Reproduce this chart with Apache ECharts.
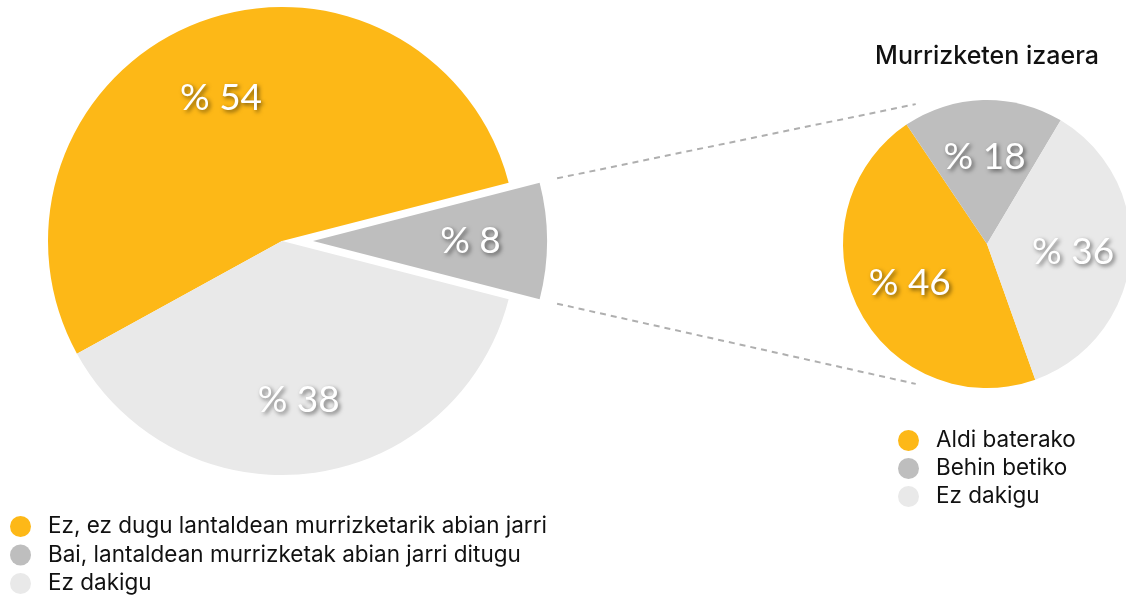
<!DOCTYPE html>
<html><head><meta charset="utf-8">
<script src="https://cdn.jsdelivr.net/npm/echarts@6/dist/echarts.min.js"></script>
<style>html,body{margin:0;padding:0;background:#fff}#c{width:1126px;height:596px}</style>
</head><body><div id="c"></div>
<script>
const mainCategories = ['Ez, ez dugu lantaldean murrizketarik abian jarri', 'Bai, lantaldean murrizketak abian jarri ditugu', 'Ez dakigu'];
const mainValues = [54, 8, 38];
const detailCategories = ['Aldi baterako', 'Behin betiko', 'Ez dakigu'];
const detailValues = [46, 18, 36];
const detailTitle = 'Murrizketen izaera';
const colors = ['#FDB817', '#BEBEBE', '#E9E9E9'];

const MAIN_C = [282, 241], MAIN_R = 234, OFFSET = 31;
const DET_C = [987, 244], DET_R = 144;
const MAIN_START = 208.8, DET_START = 289.6;

const labelStyle = {
  show: true, position: 'inside', color: '#fff',
  fontFamily: 'Lato, "Open Sans", sans-serif', fontSize: 37,
  formatter: p => '% ' + p.value,
  textShadowColor: 'rgba(0,0,0,0.55)', textShadowBlur: 4, textShadowOffsetX: 2, textShadowOffsetY: 2
};

function mkData(cats, vals, selIdx, transparent) {
  return cats.map((n, i) => ({
    name: n, value: vals[i], selected: i === selIdx,
    itemStyle: { color: transparent ? 'rgba(0,0,0,0)' : colors[i] }
  }));
}

const rad = d => d * Math.PI / 180;
const half = mainValues[1] / 100 * 180;
const tipX = MAIN_C[0] + OFFSET, tipY = MAIN_C[1];
const sR = MAIN_R + 18;
const p1 = [tipX + sR * Math.cos(rad(half)), tipY - sR * Math.sin(rad(half))];
const p2 = [tipX + sR * Math.cos(rad(half)), tipY + sR * Math.sin(rad(half))];
const eR = DET_R + 13;
const q1 = [DET_C[0] + eR * Math.cos(rad(117)), DET_C[1] - eR * Math.sin(rad(117))];
const q2 = [DET_C[0] + eR * Math.cos(rad(117)), DET_C[1] + eR * Math.sin(rad(117))];
const dashStyle = { stroke: '#AFAFAF', lineWidth: 2, lineDash: [6, 5] };

const legendText = { fontFamily: 'Inter, "Liberation Sans", Arial, sans-serif', fontSize: 22.5, lineHeight: 21, color: '#111', padding: [0, 0, 0, 12] };

const chart = echarts.init(document.getElementById('c'));
chart.setOption({
  animation: false,
  title: {
    text: detailTitle, left: DET_C[0], top: 44, textAlign: 'center', padding: 0,
    textStyle: { fontFamily: 'Inter, "Liberation Sans", Arial, sans-serif', fontWeight: 500, fontSize: 25, color: '#111' }
  },
  legend: [
    {
      data: mainCategories, orient: 'vertical', left: 10, top: 515, height: 100, padding: 0,
      icon: 'circle', itemWidth: 21, itemHeight: 21, itemGap: 5.5, selectedMode: false,
      textStyle: legendText
    },
    {
      data: detailCategories, orient: 'vertical', left: 898, top: 429, padding: 0,
      icon: 'circle', itemWidth: 21, itemHeight: 21, itemGap: 5, selectedMode: false,
      textStyle: legendText
    }
  ],
  graphic: [
    { type: 'line', shape: { x1: p1[0], y1: p1[1], x2: q1[0], y2: q1[1] }, style: dashStyle, silent: true },
    { type: 'line', shape: { x1: p2[0], y1: p2[1], x2: q2[0], y2: q2[1] }, style: dashStyle, silent: true }
  ],
  series: [
    {
      type: 'pie', center: MAIN_C, radius: MAIN_R, startAngle: MAIN_START, clockwise: true,
      selectedMode: 'single', selectedOffset: OFFSET, avoidLabelOverlap: false,
      label: { show: false }, labelLine: { show: false }, emphasis: { disabled: true },
      data: mkData(mainCategories, mainValues, 1, false)
    },
    {
      type: 'pie', center: MAIN_C, radius: MAIN_R * 1.32, startAngle: MAIN_START, clockwise: true,
      selectedMode: 'single', selectedOffset: OFFSET, avoidLabelOverlap: false, silent: true,
      label: Object.assign({}, labelStyle, { offset: [-3, 3] }), labelLine: { show: false }, emphasis: { disabled: true },
      data: mkData(mainCategories, mainValues, 1, true)
    },
    {
      type: 'pie', center: DET_C, radius: DET_R, startAngle: DET_START, clockwise: true,
      avoidLabelOverlap: false, selectedMode: false,
      label: { show: false }, labelLine: { show: false }, emphasis: { disabled: true },
      data: mkData(detailCategories, detailValues, -1, false)
    },
    {
      type: 'pie', center: DET_C, radius: DET_R * 1.16, startAngle: DET_START, clockwise: true,
      avoidLabelOverlap: false, selectedMode: false, silent: true,
      label: labelStyle, labelLine: { show: false }, emphasis: { disabled: true },
      data: mkData(detailCategories, detailValues, -1, true)
    }
  ]
});
</script></body></html>
